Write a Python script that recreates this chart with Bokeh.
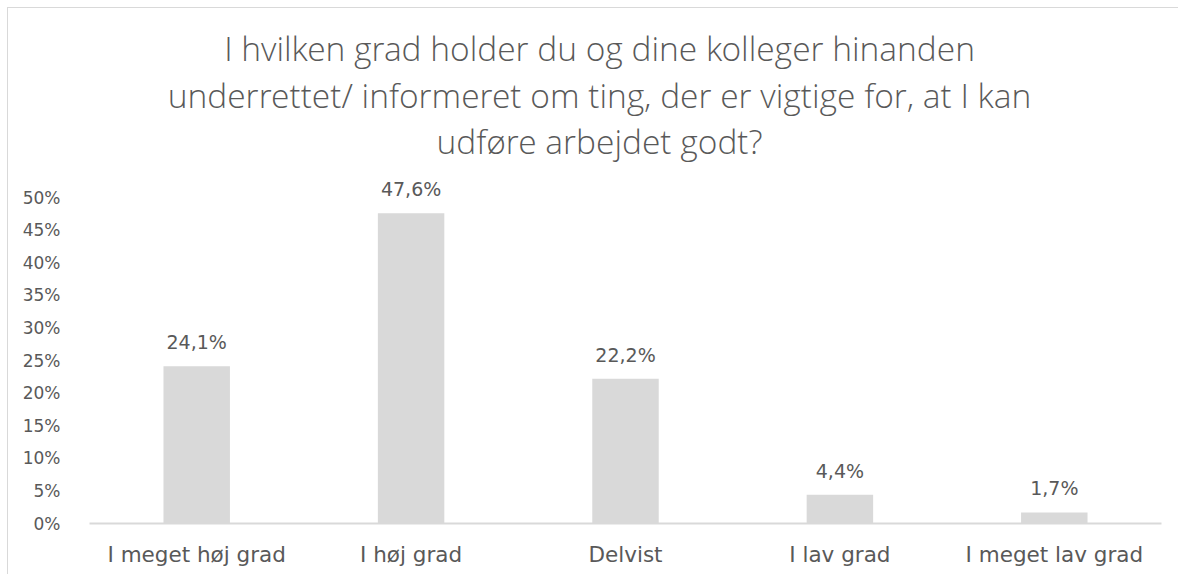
from bokeh.plotting import figure
from bokeh.models import ColumnDataSource, FactorRange, Range1d, FixedTicker, NumeralTickFormatter, Label
from bokeh.core.properties import value
from bokeh.embed import file_html
from bokeh.resources import INLINE

categories = ["I meget høj grad", "I høj grad", "Delvist", "I lav grad", "I meget lav grad"]
shares = [0.241, 0.476, 0.222, 0.044, 0.017]
y_ticks = [0.0, 0.05, 0.10, 0.15, 0.20, 0.25, 0.30, 0.35, 0.40, 0.45, 0.50]
title_lines = [
    "I hvilken grad holder du og dine kolleger hinanden",
    "underrettet/ informeret om ting, der er vigtige for, at I kan",
    "udføre arbejdet godt?",
]

labels = [f"{v * 100:.1f}".replace(".", ",") + "%" for v in shares]
src = ColumnDataSource(dict(cat=categories, val=shares, lab=labels))

TXT = "#595959"
GRID = "#d9d9d9"

p = figure(width=1171, height=567, x_range=FactorRange(*categories, range_padding=0),
           y_range=Range1d(0, 0.7715), output_backend="svg", toolbar_location=None,
           title=None, min_border_left=81, min_border_right=18, min_border_bottom=52,
           min_border_top=12)
p.outline_line_color = None
p.styles = {"margin-left": "7px", "margin-top": "7px",
            "border-top": "1px solid #d9d9d9", "border-left": "1px solid #d9d9d9"}

# title lines, placed inside the (invisible) upper part of the frame
title_x = 2.379
title_y = [0.729, 0.657, 0.586]
for line, ty in zip(title_lines, title_y):
    p.add_layout(Label(x=title_x, y=ty, text=line, text_align="center",
                       text_baseline="alphabetic", text_font="'Open Sans Light', 'Open Sans'",
                       text_font_size="33.5px", text_color=TXT))

p.vbar(x="cat", top="val", width=0.31, source=src, fill_color=GRID, line_color=None)
p.text(x="cat", y="val", text="lab", source=src, text_align="center",
       text_baseline="alphabetic", y_offset=-24, text_color=TXT,
       text_font=value("DejaVu Sans"), text_font_size="19px")

p.xgrid.grid_line_color = None
p.ygrid.grid_line_color = None

p.yaxis.ticker = FixedTicker(ticks=y_ticks)
p.yaxis.formatter = NumeralTickFormatter(format="0%")
p.yaxis.axis_line_color = None
p.yaxis.major_tick_line_color = None
p.yaxis.minor_tick_line_color = None
p.yaxis.major_label_standoff = 23
p.yaxis.major_label_text_font = "DejaVu Sans"
p.yaxis.major_label_text_font_size = "17px"
p.yaxis.major_label_text_color = TXT

p.xaxis.axis_line_color = GRID
p.xaxis.axis_line_width = 2
p.xaxis.major_tick_line_color = None
p.xaxis.minor_tick_line_color = None
p.xaxis.major_label_standoff = 12
p.xaxis.major_label_text_font = "DejaVu Sans"
p.xaxis.major_label_text_font_size = "21.5px"
p.xaxis.major_label_text_color = TXT

open("out.html", "w").write(file_html(p, INLINE))
